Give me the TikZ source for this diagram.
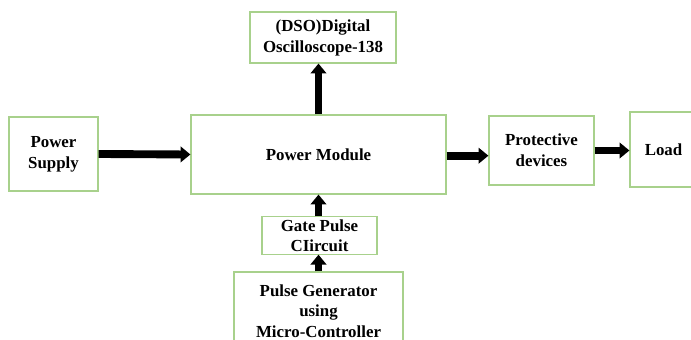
\documentclass[tikz,border=0pt]{standalone}
\usepackage{fontspec}
\setmainfont{Liberation Serif}
\usetikzlibrary{arrows.meta}
\begin{document}
\begin{tikzpicture}[x=0.025cm, y=-0.025cm,
    blk/.style={draw=box-green, line width=0.8pt, align=center, inner sep=2pt,
      font=\fontsize{12}{15}\selectfont\bfseries},
    fat/.style={line width=5.6pt, -{Triangle[length=7pt,width=11pt]}}]
    \definecolor{box-green}{rgb}{0.66,0.82,0.55}
    \clip (0,0) rectangle (691,340);
    \node[blk, minimum width=2.225cm, minimum height=1.85cm]  (psupply)  at (53.5,154)  {Power\\Supply};
    \node[blk, minimum width=6.375cm, minimum height=1.975cm] (pmodule)  at (318.5,154.5) {Power Module};
    \node[blk, minimum width=2.625cm, minimum height=1.725cm] (protect)  at (541.5,150.5) {Protective\\devices};
    \node[blk, minimum width=1.675cm, minimum height=1.875cm] (load)     at (663.5,149.5) {Load};
    \node[blk, minimum width=3.65cm,  minimum height=1.275cm] (dso)      at (323,37.5)   {(DSO)Digital\\Oscilloscope-138};
    \node[blk, minimum width=2.875cm, minimum height=0.925cm, font=\fontsize{12}{14}\selectfont\bfseries]
      (gate) at (319.5,235.5) {Gate Pulse\\CIircuit};
    \node[blk, minimum width=4.225cm, minimum height=1.95cm, font=\fontsize{12}{14.5}\selectfont\bfseries]
      (pulsegen) at (318.5,311) {Pulse Generator\\using\\Micro-Controller};
    \draw[fat] (psupply.east) -- (pmodule.west);
    \draw[fat] ([yshift=-0.03cm]pmodule.east) -- ([yshift=-0.03cm]pmodule.east -| protect.west);
    \draw[fat] (protect.east) -- (protect.east -| load.west);
    \draw[fat] (pmodule.north) -- (pmodule.north |- dso.south);
    \draw[fat] (pmodule.south |- gate.north) -- (pmodule.south);
    \draw[fat] (pmodule.south |- pulsegen.north) -- (pmodule.south |- gate.south);
\end{tikzpicture}
\end{document}
